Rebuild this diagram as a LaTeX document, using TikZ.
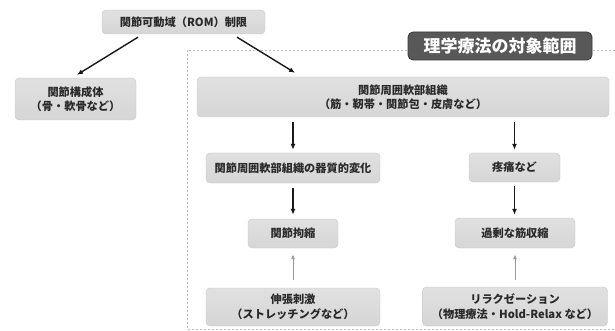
\documentclass[tikz,border=0pt]{standalone}
\usepackage{fontspec}
\setmainfont{Noto Sans CJK JP}
\usetikzlibrary{arrows.meta,calc}
\definecolor{boxfill}{HTML}{D6D6D6}
\definecolor{boxline}{HTML}{C8C8C8}
\definecolor{txt}{HTML}{2A2A2A}
\definecolor{titlefill}{HTML}{585858}
\definecolor{titleline}{HTML}{3A3A3A}
\definecolor{dashc}{HTML}{BDBDBD}
\definecolor{uparr}{HTML}{9A9A9A}
\begin{document}
\begin{tikzpicture}[x=1pt,y=-1pt,
  box/.style={rectangle,rounded corners=4pt,top color=boxfill!75!white,bottom color=boxfill,draw=boxline,line width=0.4pt,
    text=txt,font=\fontsize{11.2}{14.5}\selectfont\bfseries,align=center,inner sep=0pt},
  darr/.style={-{Latex[length=6pt,width=5pt]},line width=1.4pt,black!90},
  uarr/.style={-{Latex[length=5pt,width=4pt]},line width=1pt,uparr}]
\useasboundingbox (0,0) rectangle (615,331);
\begin{scope}
\clip (0,0) rectangle (615,331);
\draw[dashc,line width=0.8pt,dash pattern=on 2pt off 2pt] (187,50) rectangle (630,329);
\end{scope}
\node[rectangle,rounded corners=5pt,fill=titlefill,draw=titleline,line width=0.8pt,minimum width=184pt,minimum height=28pt,
  text=white,font=\fontsize{17}{20}\selectfont\bfseries,inner sep=0pt] (title) at (500,46) {理学療法の対象範囲};
\node[box,minimum width=163pt,minimum height=24pt] (top) at (183.5,22) {関節可動域（ROM）制限};
\node[box,minimum width=121pt,minimum height=42pt] (left) at (75.5,99) {関節構成体\\（骨・軟骨など）};
\node[box,minimum width=412pt,minimum height=40pt] (big) at (403,97) {関節周囲軟部組織\\（筋・靭帯・関節包・皮膚など）};
\node[box,minimum width=174pt,minimum height=30pt] (chg) at (293,168) {関節周囲軟部組織の器質的変化};
\node[box,minimum width=91pt,minimum height=29pt] (pain) at (514.5,167.5) {疼痛など};
\node[box,minimum width=90pt,minimum height=29pt] (contr) at (293,233.5) {関節拘縮};
\node[box,minimum width=120pt,minimum height=30pt] (musc) at (515,233) {過剰な筋収縮};
\node[box,minimum width=174pt,minimum height=38pt] (stretch) at (293,307) {伸張刺激\\（ストレッチングなど）};
\node[box,minimum width=185pt,minimum height=39pt] (relax) at (515,306.5) {リラクゼーション\\（物理療法・Hold-Relax など）};
\draw[darr] ($(top.south)+(-45.5,3)$) -- ($(left.north)+(1.5,-3)$);
\draw[darr] ($(top.south)+(53.5,3)$) -- ($(big.north)+(-108,-4)$);
\draw[darr,shorten <=5pt,shorten >=3pt] (big.south -| chg.north) -- (chg.north);
\draw[darr,shorten <=5pt,shorten >=3pt] (big.south -| pain.north) -- (pain.north);
\draw[darr,shorten <=5pt,shorten >=4pt] (chg.south) -- (contr.north);
\draw[darr,shorten <=4pt,shorten >=3pt] (pain.south) -- (pain.south |- musc.north);
\draw[uarr,shorten <=8pt,shorten >=6pt] (stretch.north) -- (contr.south);
\draw[uarr,shorten <=7pt,shorten >=6pt] (relax.north |- relax.north) -- (relax.north |- musc.south);
\end{tikzpicture}
\end{document}
